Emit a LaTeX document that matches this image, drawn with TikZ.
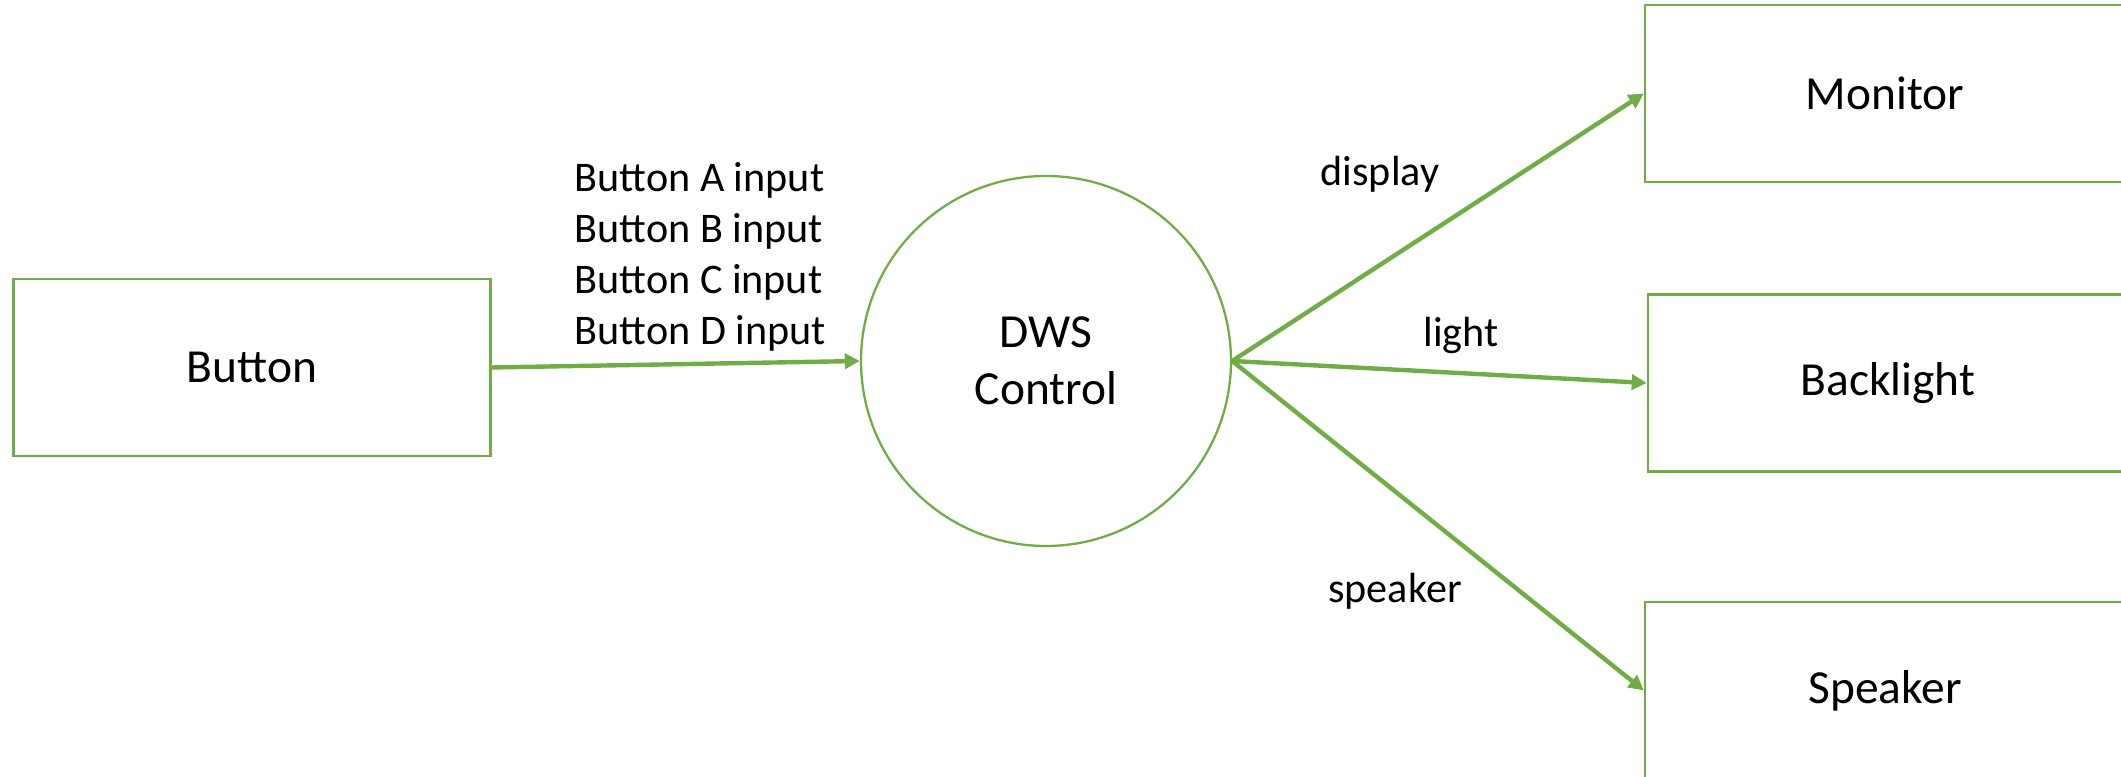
\documentclass[tikz,border=0pt]{standalone}
\usepackage{fontspec}
\setmainfont{Carlito}
\usepackage{tikz}
\usetikzlibrary{arrows.meta}
\definecolor{dfdgreen}{HTML}{70AD47}

\begin{document}
\begin{tikzpicture}[
  blockbox/.style={draw=dfdgreen, line width=0.65pt, minimum width=4.8cm, minimum height=1.77cm, inner sep=0pt, font=\fontsize{13.5}{16}\selectfont},
  proccircle/.style={draw=dfdgreen, line width=0.65pt, circle, minimum size=3.7cm, inner sep=0pt, align=center, font=\fontsize{13.5}{16.2}\selectfont},
  flowarrow/.style={draw=dfdgreen, line width=1.25pt, -{Triangle[length=4.3pt, width=4.3pt]}},
  flowlbl/.style={font=\fontsize{12}{14.5}\selectfont, inner sep=0pt}
]
  \useasboundingbox (0,0) rectangle (21.21,7.77);
  \clip (0,0) rectangle (21.21,7.77);
  % entities and process
  \node[blockbox, minimum width=4.77cm] (button) at (2.52,4.095) {Button};
  \node[proccircle] (dws) at (10.46,4.16) {DWS\\Control};
  \node[blockbox] (monitor) at (18.85,6.835) {Monitor};
  \node[blockbox] (backlight) at (18.88,3.94) {Backlight};
  \node[blockbox] (speaker) at (18.85,0.865) {Speaker};
  % data flows
  \draw[flowarrow] (button.east) -- (dws.west);
  \draw[flowarrow] (dws.east) -- (monitor.west);
  \draw[flowarrow] (dws.east) -- (backlight.west);
  \draw[flowarrow] (dws.east) -- (speaker.west);
  % flow labels
  \node[flowlbl, align=left, anchor=west] (btninputs) at (5.74,5.20) {Button A input\\Button B input\\Button C input\\Button D input};
  \node[flowlbl, anchor=base] (displaylbl) at (13.80,5.91) {display};
  \node[flowlbl, anchor=base] (lightlbl) at (14.61,4.30) {light};
  \node[flowlbl, anchor=base] (speakerlbl) at (13.95,1.74) {speaker};
\end{tikzpicture}
\end{document}
